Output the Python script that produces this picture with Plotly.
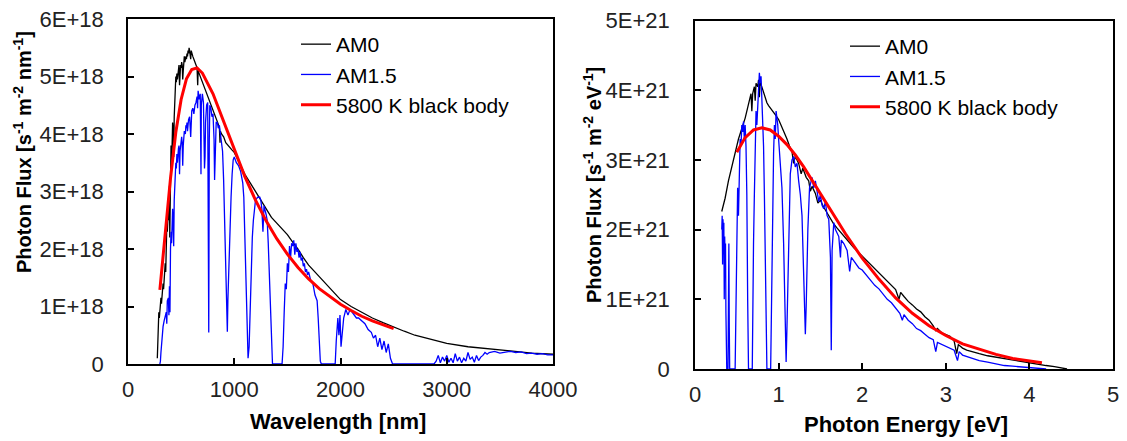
import plotly.graph_objects as go

# ---------------- Left panel: per-wavelength photon flux (units of 1E+18 s-1 m-2 nm-1)
wl_am0 = [276, 280, 285, 290, 295, 300, 305, 310, 315, 320, 325, 330, 335, 340, 345, 350, 355, 360, 365, 370,
          375, 380, 385, 390, 393, 396, 400, 405, 410, 415, 420, 425, 430, 435, 440, 445, 450, 455, 460, 465,
          470, 475, 480, 485, 490, 495, 500, 505, 510, 515, 520, 525, 530, 535, 540, 545, 550, 555, 560, 565,
          570, 575, 580, 585, 590, 595, 600, 610, 620, 630, 640, 650, 656, 660, 670, 680, 690, 700, 720, 740,
          760, 780, 800, 820, 840, 860, 866, 870, 880, 900, 920, 940, 960, 980, 1000, 1050, 1100, 1150, 1200, 1250,
          1300, 1350, 1400, 1450, 1500, 1550, 1600, 1650, 1700, 1750, 1800, 1850, 1900, 1950, 2000, 2100, 2200, 2300, 2400, 2500,
          2600, 2700, 2800, 2900, 3000, 3200, 3400, 3600, 3800, 4000]
am0_nm = [0.1, 0.5, 0.75, 0.9, 0.8, 0.95, 1.05, 1.15, 1.05, 1.2, 1.3, 1.4, 1.3, 1.55, 1.5, 1.75, 1.6, 2.0, 2.4, 2.3,
          2.5, 2.8, 2.5, 3.1, 2.2, 2.6, 3.6, 3.8, 3.4, 4.0, 4.2, 4.05, 3.6, 4.3, 4.55, 4.75, 5.0, 4.9, 5.05, 4.95,
          5.1, 5.15, 5.2, 4.85, 5.1, 5.2, 5.15, 5.25, 5.2, 4.95, 5.1, 5.3, 5.35, 5.25, 5.3, 5.35, 5.3, 5.4, 5.35, 5.45,
          5.4, 5.5, 5.45, 5.4, 5.3, 5.45, 5.4, 5.35, 5.3, 5.25, 5.2, 5.15, 4.85, 5.1, 5.05, 5.0, 4.95, 4.9, 4.8, 4.7,
          4.6, 4.5, 4.4, 4.3, 4.2, 4.12, 3.85, 4.05, 4.0, 3.95, 3.85, 3.8, 3.75, 3.72, 3.68, 3.5, 3.3, 3.15, 3.0, 2.85,
          2.7, 2.55, 2.45, 2.35, 2.25, 2.12, 2.0, 1.85, 1.72, 1.62, 1.52, 1.42, 1.32, 1.22, 1.12, 1.0, 0.9, 0.8, 0.72, 0.64,
          0.57, 0.5, 0.45, 0.4, 0.36, 0.3, 0.26, 0.22, 0.19, 0.17]

wl_am15 = [300, 305, 310, 320, 330, 340, 350, 360, 365, 370, 380, 385, 390, 395, 400, 405, 410, 415, 420, 425,
           430, 435, 440, 445, 450, 455, 460, 465, 470, 475, 480, 485, 490, 495, 500, 505, 510, 515, 520, 525,
           530, 540, 545, 550, 555, 560, 570, 580, 590, 595, 600, 610, 620, 630, 640, 650, 655, 660, 670, 680,
           687, 690, 700, 710, 720, 725, 730, 740, 750, 760, 765, 770, 780, 790, 800, 810, 815, 820, 825, 830,
           840, 850, 860, 870, 880, 890, 900, 910, 920, 930, 935, 940, 950, 960, 970, 980, 990, 1000, 1010, 1020,
           1040, 1060, 1080, 1090, 1100, 1110, 1120, 1130, 1140, 1150, 1160, 1170, 1180, 1190, 1200, 1220, 1240, 1250, 1260, 1270,
           1280, 1300, 1310, 1320, 1330, 1340, 1350, 1360, 1450, 1460, 1470, 1480, 1490, 1500, 1510, 1520, 1530, 1540, 1550, 1560,
           1570, 1580, 1590, 1600, 1610, 1620, 1630, 1640, 1650, 1660, 1670, 1680, 1690, 1700, 1720, 1740, 1760, 1780, 1790, 1800,
           1810, 1820, 1950, 1960, 1975, 1985, 1995, 2005, 2015, 2030, 2050, 2070, 2090, 2110, 2130, 2150, 2170, 2200, 2230, 2260,
           2290, 2310, 2330, 2350, 2370, 2390, 2410, 2430, 2450, 2470, 2490, 2880, 2900, 2920, 2940, 2960, 2980, 3000, 3020, 3040,
           3060, 3080, 3100, 3120, 3140, 3160, 3180, 3200, 3220, 3240, 3260, 3280, 3300, 3320, 3340, 3360, 3380, 3400, 3450, 3500,
           3550, 3600, 3650, 3700, 3750, 3800, 3850, 3900, 3950, 4000]
am15_nm = [0.0, 0.05, 0.2, 0.45, 0.65, 0.75, 0.85, 0.9, 0.7, 1.1, 1.15, 0.85, 1.35, 0.9, 2.0, 2.3, 2.1, 2.55, 2.7, 2.45,
           2.05, 2.85, 3.05, 3.25, 3.5, 3.4, 3.65, 3.5, 3.7, 3.75, 3.8, 3.3, 3.7, 3.85, 3.8, 3.95, 3.85, 3.45, 3.8, 4.0,
           4.05, 4.0, 4.15, 4.1, 4.2, 4.05, 4.25, 4.3, 3.95, 4.35, 4.4, 4.45, 4.35, 4.5, 4.55, 4.65, 4.45, 4.75, 4.6, 4.7,
           3.3, 4.5, 4.7, 4.55, 3.4, 3.6, 4.2, 4.5, 4.55, 0.55, 3.9, 4.5, 4.45, 4.3, 4.35, 3.9, 3.2, 3.5, 3.8, 4.2,
           4.2, 4.1, 4.15, 4.0, 3.95, 3.7, 3.2, 2.5, 1.9, 0.9, 0.56, 1.1, 1.8, 2.4, 2.9, 3.3, 3.55, 3.6, 3.55, 3.5,
           3.45, 3.35, 3.15, 2.9, 2.2, 1.3, 0.6, 0.1, 0.3, 1.0, 1.7, 2.2, 2.5, 2.7, 2.85, 2.9, 2.9, 2.85, 2.7, 2.3,
           2.75, 2.6, 2.5, 2.1, 1.5, 0.8, 0.25, 0.0, 0.0, 0.3, 0.9, 1.4, 1.3, 1.75, 1.6, 2.05, 1.85, 2.1, 2.05, 2.15,
           1.9, 2.1, 1.95, 2.0, 1.85, 1.95, 1.8, 1.85, 1.7, 1.75, 1.6, 1.65, 1.55, 1.6, 1.45, 1.4, 1.2, 1.1, 0.8, 0.4,
           0.05, 0.0, 0.0, 0.4, 0.8, 0.5, 0.85, 0.3, 0.5, 0.8, 0.95, 0.85, 0.95, 0.9, 0.85, 0.8, 0.8, 0.75, 0.7, 0.6,
           0.55, 0.45, 0.5, 0.3, 0.45, 0.25, 0.4, 0.2, 0.35, 0.1, 0.0, 0.0, 0.05, 0.15, 0.02, 0.12, 0.05, 0.15, 0.03, 0.1,
           0.02, 0.18, 0.05, 0.12, 0.02, 0.1, 0.05, 0.2, 0.08, 0.12, 0.03, 0.15, 0.06, 0.12, 0.15, 0.2, 0.17, 0.2, 0.22, 0.19,
           0.21, 0.22, 0.2, 0.21, 0.18, 0.19, 0.17, 0.18, 0.16, 0.16]

wl_bb = [300, 350, 400, 450, 500, 550, 600, 650, 700, 800, 900, 1000, 1100, 1200, 1300, 1400, 1500, 1600, 1700, 1800,
         1900, 2000, 2100, 2200, 2300, 2400, 2500]
bb_nm = [1.29, 2.27, 3.23, 4.03, 4.6, 4.96, 5.12, 5.15, 5.06, 4.7, 4.22, 3.73, 3.26, 2.85, 2.49, 2.18, 1.91, 1.68, 1.48, 1.31,
         1.17, 1.04, 0.93, 0.83, 0.75, 0.68, 0.615]

# ---------------- Right panel: per-energy photon flux (units of 1E+21 s-1 m-2 eV-1)
ev_am0 = [0.32, 0.36, 0.40, 0.44, 0.48, 0.52, 0.56, 0.60, 0.63, 0.65, 0.67, 0.68, 0.69, 0.71, 0.72, 0.73, 0.75, 0.76, 0.77, 0.78,
          0.80, 0.82, 0.84, 0.86, 0.88, 0.90, 0.93, 0.96, 1.00, 1.03, 1.06, 1.10, 1.13, 1.16, 1.18, 1.20, 1.24, 1.27, 1.29, 1.33,
          1.36, 1.38, 1.40, 1.44, 1.47, 1.50, 1.54, 1.58, 1.62, 1.66, 1.70, 1.75, 1.80, 1.85, 1.90, 1.95, 2.00, 2.05, 2.10, 2.15,
          2.20, 2.25, 2.30, 2.35, 2.40, 2.44, 2.46, 2.50, 2.55, 2.60, 2.65, 2.70, 2.75, 2.80, 2.85, 2.88, 2.90, 2.95, 3.00, 3.05,
          3.10, 3.13, 3.15, 3.20, 3.25, 3.30, 3.40, 3.50, 3.60, 3.70, 3.80, 3.90, 4.00, 4.10, 4.20, 4.30, 4.40, 4.45]
am0_ev = [2.26, 2.45, 2.7, 2.9, 3.1, 3.3, 3.45, 3.6, 3.75, 3.85, 3.95, 3.7, 3.95, 4.05, 3.85, 4.1, 4.05, 4.15, 3.9, 4.12,
          4.05, 3.95, 3.9, 3.82, 3.78, 3.75, 3.7, 3.65, 3.58, 3.5, 3.4, 3.3, 3.2, 3.12, 2.95, 3.05, 2.95, 2.8, 2.88, 2.75,
          2.7, 2.55, 2.62, 2.52, 2.38, 2.42, 2.32, 2.24, 2.15, 2.08, 2.02, 1.95, 1.88, 1.8, 1.74, 1.68, 1.62, 1.56, 1.5, 1.44,
          1.38, 1.32, 1.27, 1.2, 1.14, 1.0, 1.1, 1.04, 0.97, 0.92, 0.86, 0.82, 0.75, 0.7, 0.62, 0.55, 0.58, 0.52, 0.5, 0.47,
          0.4, 0.22, 0.35, 0.3, 0.27, 0.25, 0.22, 0.19, 0.17, 0.14, 0.12, 0.1, 0.08, 0.06, 0.05, 0.035, 0.015, 0.0]

ev_am15 = [0.32, 0.325, 0.33, 0.335, 0.34, 0.345, 0.35, 0.355, 0.36, 0.365, 0.37, 0.375, 0.38, 0.395, 0.40, 0.405, 0.41, 0.415, 0.48, 0.49,
           0.50, 0.51, 0.52, 0.53, 0.54, 0.55, 0.56, 0.57, 0.58, 0.59, 0.60, 0.61, 0.62, 0.63, 0.64, 0.685, 0.69, 0.70, 0.71, 0.72,
           0.73, 0.74, 0.75, 0.76, 0.77, 0.78, 0.79, 0.80, 0.81, 0.82, 0.83, 0.84, 0.85, 0.86, 0.905, 0.91, 0.92, 0.93, 0.94, 0.95,
           0.96, 0.97, 0.98, 0.99, 1.00, 1.02, 1.04, 1.06, 1.08, 1.09, 1.10, 1.12, 1.14, 1.16, 1.18, 1.20, 1.22, 1.24, 1.26, 1.28,
           1.30, 1.32, 1.33, 1.35, 1.37, 1.40, 1.42, 1.44, 1.46, 1.48, 1.50, 1.52, 1.54, 1.56, 1.58, 1.60, 1.62, 1.63, 1.64, 1.66,
           1.68, 1.70, 1.72, 1.74, 1.75, 1.78, 1.80, 1.82, 1.85, 1.87, 1.90, 1.93, 1.96, 2.00, 2.05, 2.10, 2.15, 2.20, 2.25, 2.30,
           2.35, 2.40, 2.45, 2.48, 2.50, 2.55, 2.60, 2.65, 2.70, 2.75, 2.80, 2.85, 2.88, 2.90, 2.95, 3.00, 3.05, 3.10, 3.14, 3.16,
           3.20, 3.30, 3.40, 3.50, 3.60, 3.70, 3.80, 3.90, 4.00, 4.10, 4.20]
am15_ev = [2.0, 2.2, 1.5, 2.15, 1.8, 2.1, 1.0, 1.9, 1.6, 1.8, 0.8, 0.3, 0.0, 0.0, 1.2, 1.8, 0.6, 0.0, 0.0, 1.0,
           1.8, 2.6, 2.2, 3.0, 3.3, 3.2, 3.5, 3.4, 3.55, 3.3, 3.5, 3.2, 2.5, 1.0, 0.0, 0.0, 0.8, 1.8, 2.5, 3.2,
           3.7, 3.5, 3.9, 4.0, 4.25, 4.1, 4.2, 3.9, 3.7, 3.2, 2.5, 1.5, 0.5, 0.0, 0.0, 0.6, 1.6, 2.5, 3.1, 3.5,
           3.3, 3.7, 3.6, 3.5, 3.3, 3.0, 2.6, 1.8, 0.5, 0.1, 0.6, 2.0, 2.8, 3.0, 3.05, 2.9, 2.95, 2.7, 2.5, 2.2,
           1.5, 0.5, 0.9, 2.0, 2.6, 2.75, 2.6, 2.7, 2.55, 2.4, 2.5, 2.35, 2.3, 2.4, 2.2, 2.15, 1.6, 0.27, 1.7, 2.1,
           2.0, 1.95, 1.9, 1.6, 1.85, 1.8, 1.75, 1.7, 1.4, 1.6, 1.55, 1.5, 1.45, 1.42, 1.35, 1.28, 1.2, 1.15, 1.08, 1.0,
           0.95, 0.88, 0.8, 0.7, 0.78, 0.7, 0.65, 0.58, 0.55, 0.5, 0.45, 0.42, 0.25, 0.38, 0.35, 0.32, 0.3, 0.27, 0.12, 0.25,
           0.2, 0.16, 0.12, 0.1, 0.07, 0.05, 0.04, 0.03, 0.02, 0.01, 0.0]

ev_bb = [0.5, 0.6, 0.7, 0.8, 0.9, 1.0, 1.1, 1.2, 1.3, 1.4, 1.5, 1.6, 1.8, 2.0, 2.2, 2.4, 2.6, 2.8, 3.0, 3.2,
         3.4, 3.6, 3.8, 4.0, 4.15]
bb_ev = [3.11, 3.32, 3.43, 3.46, 3.43, 3.34, 3.22, 3.07, 2.9, 2.71, 2.52, 2.33, 1.94, 1.59, 1.29, 1.02, 0.8, 0.62, 0.48, 0.36,
         0.28, 0.21, 0.15, 0.115, 0.09]

SCALE_L = 1e18
SCALE_R = 1e21
yticks_left = [0, 1, 2, 3, 4, 5, 6]
yticklabels_left = ["0", "1E+18", "2E+18", "3E+18", "4E+18", "5E+18", "6E+18"]
yticks_right = [0, 1, 2, 3, 4, 5]
yticklabels_right = ["0", "1E+21", "2E+21", "3E+21", "4E+21", "5E+21"]

FONT = "Liberation Sans, Arial, sans-serif"
W, H = 1127, 441

fig = go.Figure()

def add(x, y, scale, name, color, width, xa, ya, leg):
    fig.add_trace(go.Scatter(x=x, y=[v * scale for v in y], mode="lines", name=name,
                             line=dict(color=color, width=width), xaxis=xa, yaxis=ya, legend=leg))

add(wl_am0, am0_nm, SCALE_L, "AM0", "#000000", 1.3, "x", "y", "legend")
add(wl_am15, am15_nm, SCALE_L, "AM1.5", "#0000FF", 1.3, "x", "y", "legend")
add(wl_bb, bb_nm, SCALE_L, "5800 K black body", "#FF0000", 3, "x", "y", "legend")
add(ev_am0, am0_ev, SCALE_R, "AM0", "#000000", 1.3, "x2", "y2", "legend2")
add(ev_am15, am15_ev, SCALE_R, "AM1.5", "#0000FF", 1.3, "x2", "y2", "legend2")
add(ev_bb, bb_ev, SCALE_R, "5800 K black body", "#FF0000", 3, "x2", "y2", "legend2")

ax_common = dict(showgrid=False, zeroline=False, showline=True, linecolor="black", linewidth=1.5,
                 mirror=True, ticks="inside", ticklen=6, tickwidth=1.5, tickcolor="black", automargin=False,
                 tickfont=dict(family=FONT, size=22, color="#222222"))

fig.update_layout(
    width=W, height=H,
    margin=dict(l=0, r=0, t=0, b=0, pad=0, autoexpand=False),
    paper_bgcolor="white", plot_bgcolor="white",
    showlegend=True,
    xaxis=dict(domain=[128 / W, 553 / W], range=[0, 4000], tickvals=[0, 1000, 2000, 3000, 4000],
               anchor="y", ticklabelstandoff=5, **ax_common),
    yaxis=dict(domain=[(H - 364) / H, (H - 19) / H], range=[0, 6 * SCALE_L],
               tickvals=[v * SCALE_L for v in yticks_left], ticktext=yticklabels_left,
               anchor="x", ticklabelstandoff=18, **ax_common),
    xaxis2=dict(domain=[695 / W, 1113 / W], range=[0, 5], tickvals=[0, 1, 2, 3, 4, 5],
                anchor="y2", ticklabelstandoff=5, **ax_common),
    yaxis2=dict(domain=[(H - 369) / H, (H - 20.5) / H], range=[0, 5 * SCALE_R],
                tickvals=[v * SCALE_R for v in yticks_right], ticktext=yticklabels_right,
                anchor="x2", ticklabelstandoff=19, **ax_common),
    legend=dict(x=296 / W, y=(H - 24) / H, xanchor="left", yanchor="top", bgcolor="rgba(0,0,0,0)",
                font=dict(family=FONT, size=21, color="black"), itemwidth=30, borderwidth=0),
    legend2=dict(x=845 / W, y=(H - 26) / H, xanchor="left", yanchor="top", bgcolor="rgba(0,0,0,0)",
                 font=dict(family=FONT, size=21, color="black"), itemwidth=30, borderwidth=0),
)

title_font = dict(family=FONT, size=20, color="black")
fig.add_annotation(text="<b>Photon Flux [s<sup>-1</sup> m<sup>-2</sup> nm<sup>-1</sup>]</b>", textangle=-90,
                   x=22 / W, y=(H - 152) / H, xref="paper", yref="paper", showarrow=False,
                   xanchor="center", yanchor="middle", font=title_font)
fig.add_annotation(text="<b>Photon Flux [s<sup>-1</sup> m<sup>-2</sup> eV<sup>-1</sup>]</b>", textangle=-90,
                   x=592 / W, y=(H - 185) / H, xref="paper", yref="paper", showarrow=False,
                   xanchor="center", yanchor="middle", font=title_font)
fig.add_annotation(text="<b>Wavelength [nm]</b>", x=338 / W, y=(H - 421) / H, xref="paper", yref="paper",
                   showarrow=False, xanchor="center", yanchor="middle", font=dict(family=FONT, size=22, color="black"))
fig.add_annotation(text="<b>Photon Energy [eV]</b>", x=906 / W, y=(H - 424) / H, xref="paper", yref="paper",
                   showarrow=False, xanchor="center", yanchor="middle", font=dict(family=FONT, size=22, color="black"))

fig.write_html("out.html")
